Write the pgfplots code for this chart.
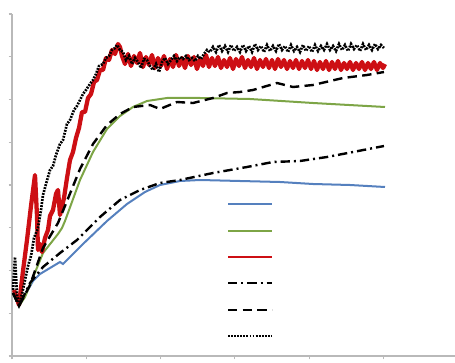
\documentclass[border=0pt]{standalone}
\usepackage{pgfplots}
\pgfplotsset{compat=1.18}
\definecolor{cblue}{RGB}{85,128,190}
\definecolor{cgreen}{RGB}{125,165,70}
\definecolor{cred}{RGB}{205,15,20}
\begin{document}
\begin{tikzpicture}
\begin{axis}[
  scale only axis, width=332.25pt, height=256.5pt,
  xmin=0, xmax=443, ymin=0, ymax=342,
  axis x line*=bottom, axis y line*=left,
  axis line style={-, draw=gray!55, line width=1pt},
  xtick={0,74.3,148.6,222.9,297.2,371.5},
  ytick={0,42.75,85.5,128.25,171,213.75,256.5,299.25,342},
  xticklabels={}, yticklabels={},
  tick align=outside, major tick length=2.5pt,
  every tick/.style={draw=gray!55, line width=0.8pt},
  legend style={draw=none, fill=none, at={(axis cs:215,165)}, anchor=north west,
    inner sep=0pt, outer sep=0pt, row sep=0pt, column sep=0pt,
    nodes={inner sep=0pt, minimum height=19.8pt}},
  legend image code/.code={\draw[#1, line width=1.6pt] (0pt,0pt) -- (33pt,0pt);},
]
\coordinate (ll) at (rel axis cs:0,0);
\coordinate (ur) at (rel axis cs:1,1);
% blue
\addplot[cblue, line width=1.5pt] coordinates {
(1,63)(7,50)(21,75)(28,82)(43,91)(48,94)(51,92)(71,112)(95,135)(115,152)(133,164)(148,171)(168,175)(188,176)(228,175)(268,174)(301,172)(338,171)(373,169)};
\addlegendentry{\mbox{}}
% green
\addplot[cgreen, line width=1.5pt] coordinates {
(1,63)(7,50)(13,59)(31,103)(46,122)(50,128)(53,135)(68,176)(81,204)(95,227)(108,240)(121,249)(135,255)(155,258)(188,258)(238,257)(301,253)(373,249)};
\addlegendentry{\mbox{}}
% red
\addplot[cred, line width=3.2pt, line join=round] coordinates {
(2,66)(4,60)(7,51)(11,85)(15,116)(19,150)(23,181)(25,140)(26,106)(28,112)(30,104)(33,118)(36,126)(38,140)(41,146)(44,162)(46,166)(48,141)(50,150)(52,158)(55,178)(58,196)(61,204)(64,218)(67,228)(70,244)(73,244)(76,258)(79,262)(82,274)(85,276)(88,286)(91,286)(94,298)(97,296)(100,306)(103,302)(106,312)(108,309)
(110,300)(113,292)(116,302)(119,290)(122,300)(125,293)(128,303)(131,289)(134,299)(137,291)(140,301)(143,288)(146,298)(149,290)(152,300)(155,287)(158,297)(161,289)(164,301)(167,290)(170,298)(173,288)(176,300)(179,291)(182,299)(185,287)(188,297)(191,290)(194,301)(197,289)(200,298)(203,290)(206,299)(209,288)(212,296)(215,289)(218,298)(221,287)(224,297)(227,290)(230,299)(233,288)(236,296)(239,289)(242,298)(245,287)(248,296)(251,289)(254,297)(257,288)(260,296)(263,287)(266,297)(269,289)(272,296)(275,287)(278,295)(281,288)(284,296)(287,287)(290,295)(293,288)(296,296)(299,287)(302,295)(305,286)(308,294)(311,287)(314,295)(317,286)(320,294)(323,287)(326,295)(329,286)(332,293)(335,287)(338,294)(341,286)(344,293)(347,287)(350,294)(353,286)(356,293)(359,287)(362,294)(365,286)(368,293)(371,288)(373,292)};
\addlegendentry{\mbox{}}
% dash-dot
\addplot[black, line width=1.8pt, dash pattern=on 7pt off 3pt on 1.5pt off 3pt] coordinates {
(1,63)(7,50)(18,73)(31,89)(48,103)(65,116)(88,139)(108,156)(128,166)(148,173)(168,176)(201,183)(235,189)(261,194)(288,195)(315,199)(341,204)(372,210)};
\addlegendentry{\mbox{}}
% dashed
\addplot[black, line width=1.8pt, dash pattern=on 7pt off 4pt] coordinates {
(1,63)(7,50)(18,71)(31,108)(46,133)(55,155)(68,187)(81,212)(95,231)(108,242)(121,249)(138,251)(148,247)(165,254)(181,253)(201,258)(215,263)(228,264)(241,266)(265,273)(281,269)(301,271)(331,278)(355,281)(372,284)};
\addlegendentry{\mbox{}}
% dotted
\addplot[black, line width=2pt, dash pattern=on 1.4pt off 0.9pt] coordinates {
(1,66)(3,99)(5,61)(7,50)(10,62)(13,76)(16,90)(19,100)(22,118)(26,128)(29,146)(31,161)(34,172)(38,186)(41,190)(44,201)(48,212)(51,216)(55,232)(58,236)(62,246)(65,250)(68,256)(71,262)(74,266)(78,272)(81,276)(84,282)(87,290)(91,292)(94,298)(97,300)(100,306)(103,308)(105,311)(108,306)(111,304)(114,296)(117,300)(120,292)(123,298)(126,294)(129,288)(132,297)(135,296)(138,290)(141,286)(144,292)(147,284)(150,294)(153,298)(156,292)(159,296)(162,300)(165,295)(168,299)(171,297)(174,300)(177,296)(180,298)(183,295)(186,300)(189,297)(192,302)(195,306)(198,304)(201,309)(204,304)(207,311)(210,305)(213,310)(216,304)(219,311)(222,305)(225,309)(228,304)(231,311)(234,305)(237,310)(240,304)(243,312)(246,306)(249,310)(252,304)(255,311)(258,305)(261,310)(264,305)(267,312)(270,306)(273,310)(276,304)(279,311)(282,305)(285,309)(288,304)(291,311)(294,305)(297,310)(300,304)(303,311)(306,305)(309,310)(312,306)(315,312)(318,306)(321,310)(324,305)(327,312)(330,306)(333,311)(336,305)(339,312)(342,307)(345,311)(348,305)(351,312)(354,306)(357,311)(360,306)(363,312)(366,307)(369,311)(372,308)};
\addlegendentry{\mbox{}}
\end{axis}
\pgfresetboundingbox
\path ([shift={(-9pt,-4.5pt)}]ll) rectangle ([shift={(0pt,10.5pt)}]ur);
\end{tikzpicture}
\end{document}
